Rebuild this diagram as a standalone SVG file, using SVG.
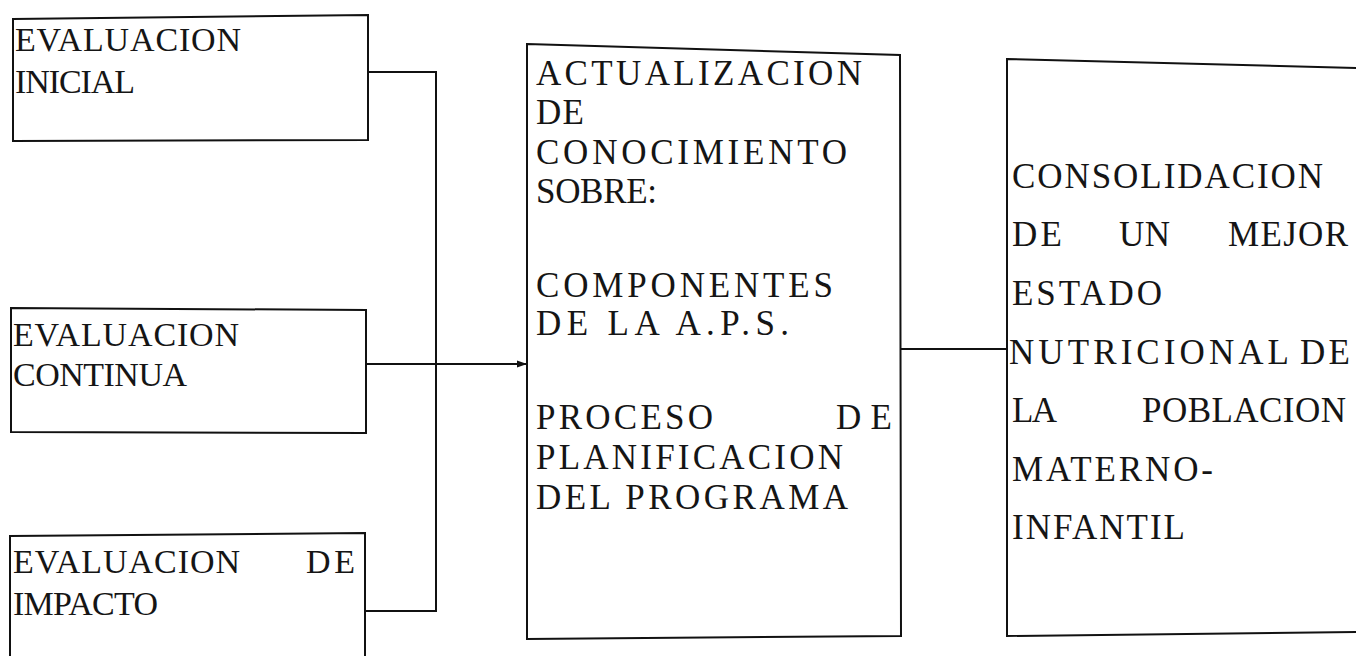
<svg xmlns="http://www.w3.org/2000/svg" width="1356" height="656" viewBox="0 0 1356 656">
  <style>
    .box { fill: #ffffff; stroke: #111111; stroke-width: 2; }
    .conn { fill: none; stroke: #111111; stroke-width: 2; }
    text { font-family: "Liberation Serif", "Times New Roman", serif; font-size: 35px; fill: #151515; }
    .sm { font-size: 34px; }
  </style>
  <defs>
    <marker id="arrow" markerWidth="10" markerHeight="8" refX="9" refY="4" orient="auto" markerUnits="userSpaceOnUse">
      <path d="M0,0.5 L10,4 L0,7.5 Z" fill="#111111"/>
    </marker>
  </defs>
  <rect x="0" y="0" width="1356" height="656" fill="#ffffff"/>

  <g id="connectors">
    <polyline class="conn" points="368,72 436,72 436,611 365,611"/>
    <line class="conn" x1="366" y1="364" x2="526" y2="364" marker-end="url(#arrow)"/>
    <line class="conn" x1="900" y1="349" x2="1007" y2="349"/>
  </g>

  <g id="evaluacion-inicial">
    <polygon class="box" points="13,19 368,15 368,140 13,141"/>
    <text class="sm" x="15" y="51" textLength="226" lengthAdjust="spacing">EVALUACION</text>
    <text class="sm" x="15" y="93" textLength="120" lengthAdjust="spacing">INICIAL</text>
  </g>

  <g id="evaluacion-continua">
    <polygon class="box" points="11,308 366,310 366,433 11,432"/>
    <text class="sm" x="13" y="346" textLength="226" lengthAdjust="spacing">EVALUACION</text>
    <text class="sm" x="13" y="386" textLength="174" lengthAdjust="spacing">CONTINUA</text>
  </g>

  <g id="evaluacion-impacto">
    <polygon class="box" points="10,536 365,533 365,660 10,660"/>
    <text class="sm" x="13" y="573" textLength="227" lengthAdjust="spacing">EVALUACION</text>
    <text class="sm" x="306" y="573" textLength="49" lengthAdjust="spacing">DE</text>
    <text class="sm" x="13" y="615" textLength="145" lengthAdjust="spacing">IMPACTO</text>
  </g>

  <g id="actualizacion">
    <polygon class="box" points="527,44 900,55 901,636 527,639"/>
    <text x="536" y="85" textLength="326" lengthAdjust="spacing">ACTUALIZACION</text>
    <text x="536" y="124" textLength="48" lengthAdjust="spacing">DE</text>
    <text x="536" y="164" textLength="311" lengthAdjust="spacing">CONOCIMIENTO</text>
    <text x="536" y="203" textLength="121" lengthAdjust="spacing">SOBRE:</text>
    <text x="536" y="297" textLength="297" lengthAdjust="spacing">COMPONENTES</text>
    <text x="536" y="335" textLength="253" lengthAdjust="spacing">DE LA A.P.S.</text>
    <text x="536" y="429" textLength="177" lengthAdjust="spacing">PROCESO</text>
    <text x="836" y="429" textLength="56" lengthAdjust="spacing">DE</text>
    <text x="536" y="469" textLength="307" lengthAdjust="spacing">PLANIFICACION</text>
    <text x="536" y="509" textLength="312" lengthAdjust="spacing">DEL PROGRAMA</text>
  </g>

  <g id="consolidacion">
    <polygon class="box" points="1007,59 1358,68 1358,632 1007,636"/>
    <text x="1012" y="188" textLength="311" lengthAdjust="spacing">CONSOLIDACION</text>
    <text x="1012" y="246" textLength="50" lengthAdjust="spacing">DE</text>
    <text x="1119" y="246" textLength="51" lengthAdjust="spacing">UN</text>
    <text x="1228" y="246" textLength="120" lengthAdjust="spacing">MEJOR</text>
    <text x="1012" y="305" textLength="150" lengthAdjust="spacing">ESTADO</text>
    <text x="1009" y="364" textLength="280" lengthAdjust="spacing">NUTRICIONAL</text>
    <text x="1300" y="364" textLength="50" lengthAdjust="spacing">DE</text>
    <text x="1012" y="422" textLength="45" lengthAdjust="spacing">LA</text>
    <text x="1142" y="422" textLength="204" lengthAdjust="spacing">POBLACION</text>
    <text x="1012" y="481" textLength="201" lengthAdjust="spacing">MATERNO-</text>
    <text x="1012" y="539" textLength="173" lengthAdjust="spacing">INFANTIL</text>
  </g>
</svg>
